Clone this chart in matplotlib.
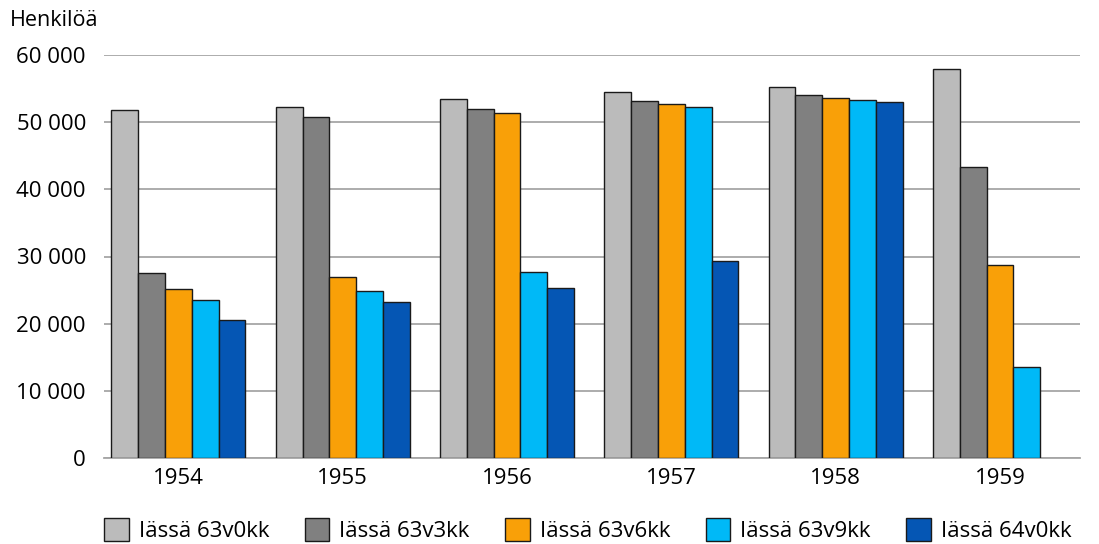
import matplotlib.pyplot as plt
import numpy as np

plt.rcParams['font.family'] = ['Open Sans', 'DejaVu Sans']

years = ['1954', '1955', '1956', '1957', '1958', '1959']
labels = ['Iässä 63v0kk', 'Iässä 63v3kk', 'Iässä 63v6kk', 'Iässä 63v9kk', 'Iässä 64v0kk']
colors = ['#BBBBBB', '#808080', '#F9A008', '#00B9F7', '#0556B4']

age_63v0 = [51800, 52200, 53500, 54500, 55250, 57900]
age_63v3 = [27600, 50700, 51900, 53200, 54100, 43300]
age_63v6 = [25100, 26900, 51400, 52700, 53600, 28800]
age_63v9 = [23500, 24800, 27700, 52300, 53300, 13600]
age_64v0 = [20500, 23200, 25300, 29300, 53000, np.nan]
series = [age_63v0, age_63v3, age_63v6, age_63v9, age_64v0]

fig = plt.figure(figsize=(10.99, 5.44), dpi=100)
ax = fig.add_axes([104 / 1099, 1 - 458 / 544, 976 / 1099, 403 / 544])

x = np.arange(len(years))
w = 0.163
for i, (vals, lab, col) in enumerate(zip(series, labels, colors)):
    ax.bar(x + (i - 2) * w, vals, width=w, color=col, edgecolor='#1a1a1a',
           linewidth=1.0, label=lab, zorder=3)

ax.set_xlim(-0.453, 5.487)
ax.set_ylim(0, 60000)
ax.set_yticks(range(0, 60001, 10000))
ax.set_yticklabels(['0', '10 000', '20 000', '30 000', '40 000', '50 000', '60 000'])
ax.set_xticks(x)
ax.set_xticklabels(years)
ax.tick_params(axis='y', length=0, pad=13, labelsize=16)
ax.tick_params(axis='x', length=0, pad=7, labelsize=16)
ax.grid(axis='y', color='#A6A6A6', linewidth=1.3, zorder=0)
for s in ['left', 'right', 'top']:
    ax.spines[s].set_visible(False)
ax.spines['bottom'].set_color('#A6A6A6')
ax.spines['bottom'].set_linewidth(1.3)

fig.text(10 / 1099, 1 - 21 / 544, 'Henkilöä', fontsize=15.5, va='center', ha='left')

fig.legend(loc='lower center', bbox_to_anchor=(0.535, -0.033), ncol=5, frameon=False,
           fontsize=16, handlelength=1.1, handleheight=1.2, handletextpad=0.45,
           columnspacing=1.6)

fig.savefig('out.png', dpi=100)
